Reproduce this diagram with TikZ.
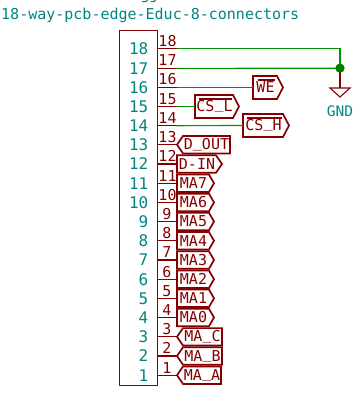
\documentclass[tikz,border=0pt]{standalone}
\usepackage{fontspec}
\setmainfont{DejaVu Sans Mono}
\definecolor{kred}{RGB}{132,0,0}
\definecolor{kteal}{RGB}{0,132,132}
\definecolor{kwire}{RGB}{0,150,0}
\definecolor{kjunc}{RGB}{0,125,0}
\newcommand{\us}{\raisebox{2.6pt}{\_}}
\tikzset{
  wire/.style={draw=kwire,line width=1.15pt},
  pinline/.style={draw=kred,line width=1.1pt},
  bodybox/.style={draw=kred,line width=1.2pt,line join=round,inner sep=0pt,fill=none},
  lblpoly/.style={draw=kred,line width=1.7pt,line join=miter},
  lbltext/.style={text=kred,font=\fontsize{15}{15}\selectfont,inner sep=0pt,anchor=center},
  teal/.style={text=kteal,font=\fontsize{15}{15}\selectfont,inner sep=0pt},
  pinnum/.style={text=kred,font=\fontsize{15}{15}\selectfont,inner sep=0pt,anchor=base},
  padnum/.style={text=kteal,font=\fontsize{16}{15}\selectfont,inner sep=0pt,anchor=east}
}
% \outl{name}{left}{bodyright}{tip}{y}{halfheight}{text}: points right
\newcommand{\outl}[7]{%
  \draw[lblpoly] (#2,#5-#6) -- (#3,#5-#6) -- (#4,#5) -- (#3,#5+#6) -- (#2,#5+#6) -- cycle;
  \node[lbltext] (#1) at ({(#2+#3)/2+0.5},#5) {#7};
  \coordinate (#1w) at (#2,#5);}
% \inl{name}{tip}{bodyleft}{right}{y}{halfheight}{text}: points left
\newcommand{\inl}[7]{%
  \draw[lblpoly] (#2,#5) -- (#3,#5-#6) -- (#4,#5-#6) -- (#4,#5+#6) -- (#3,#5+#6) -- cycle;
  \node[lbltext] (#1) at ({(#3+#4)/2},#5) {#7};
  \coordinate (#1w) at (#2,#5);}
\begin{document}
\begin{tikzpicture}[x=1pt,y=-1pt]
\useasboundingbox (0,0) rectangle (360,414);
% descenders of a line of text cut off by the top edge
\draw[kteal,line width=1.1pt] (142,1.6) -- (146,1.6) -- (147.5,0) (150.5,1.6) -- (154,1.6) -- (155.5,0);
\node[teal,anchor=base west,font=\fontsize{15}{15}\selectfont] (title) at (1,20) {18-way-pcb-edge-Educ-8-connectors};
\node[bodybox,minimum width=38pt,minimum height=355pt,anchor=north west] (body) at (119,30) {};
% pins
\foreach \n/\y in {18/48.5,17/68.4,16/87.5,15/106.5,14/125.7,13/144.7,12/164,11/183.2,10/202.4,9/221.5,8/240.7,7/260,6/279.2,5/298.3,4/317.5,3/336.8,2/356,1/375.2}{
  \coordinate (P\n a) at (157,\y);
  \coordinate (P\n) at (176.5,\y);
  \draw[pinline] (P\n a) -- (P\n);
  \node[padnum] (pad\n) at (148.5,\y) {\n};
}
\foreach \n/\x/\y in {18/167.5/46.5,17/167.5/65.8,16/167.5/85,15/167.5/104.3,14/167.5/123.5,13/167.5/142.5,12/167.5/161.8,11/167.5/181,10/167.5/200.2,9/167/219.3,8/167/238.5,7/167/257.8,6/167/277,5/167/296.1,4/167/315.3,3/167/334.6,2/167/353.8,1/167/373}{
  \node[pinnum] (num\n) at (\x,\y) {\n};
}
% labels
\outl{we}{253}{277}{283}{87.5}{11.5}{WE}
\outl{csl}{195}{233}{239}{106.5}{11.5}{CS\us L}
\outl{csh}{243}{283}{289}{125.5}{11.5}{CS\us H}
\draw[kred,line width=1.1pt] (257.5,80) -- (275,80) (199,99) -- (232,99) (247,118) -- (282,118);
\inl{dout}{177}{183}{230}{144.7}{8.7}{D\us OUT}
\outl{din}{177}{216}{222}{164}{8.7}{D-IN}
\outl{ma7}{177}{209}{214}{183.2}{8.7}{MA7}
\outl{ma6}{177}{209}{214}{202.4}{8.7}{MA6}
\outl{ma5}{177}{209}{214}{221.5}{8.7}{MA5}
\outl{ma4}{177}{209}{214}{240.7}{8.7}{MA4}
\outl{ma3}{177}{209}{214}{260}{8.7}{MA3}
\outl{ma2}{177}{209}{214}{279.2}{8.7}{MA2}
\outl{ma1}{177}{209}{214}{298.3}{8.7}{MA1}
\outl{ma0}{177}{209}{214}{317.5}{8.7}{MA0}
\inl{mac}{177}{183}{222}{336.8}{8.7}{MA\us C}
\inl{mab}{177}{183}{222}{356}{8.7}{MA\us B}
\inl{maa}{177}{183}{221}{375.2}{8.7}{MA\us A}
% wires
\coordinate (gndpin) at (340,88);
\node[circle,fill=kjunc,minimum size=9pt,inner sep=0pt] (junc) at (340,68.2) {};
\draw[wire] (P18) -- (340,48.5) -- (junc.center);
\draw[wire] (P17) -- (junc.center);
\draw[wire] (P16) -- (wew);
\draw[wire] (P15) -- (cslw);
\draw[wire] (P14) -- (cshw);
\draw[pinline] (junc.center) -- (gndpin);
\node[circle,fill=kjunc,minimum size=9pt,inner sep=0pt] at (junc) {};
\draw[kred,line width=1.1pt,line join=miter] (330,88) -- (350,88) -- (340,97) -- cycle;
\node[teal,font=\fontsize{14.5}{15}\selectfont] (gnd) at (340,111) {GND};
\end{tikzpicture}
\end{document}
